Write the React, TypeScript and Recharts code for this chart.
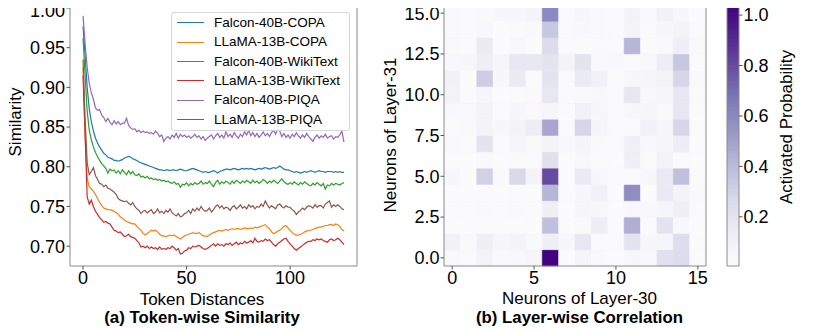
import React from "react";
import {
  LineChart,
  Line,
  XAxis,
  YAxis,
  ReferenceArea,
  ScatterChart,
  Scatter,
} from "recharts";

// ---------------- Data: (a) Token-wise similarity ----------------
const falcon40bCopa = [
  0.977, 0.94, 0.9, 0.873, 0.857, 0.845, 0.836, 0.83, 0.825, 0.821,
  0.817, 0.815, 0.812, 0.811, 0.81, 0.808, 0.808, 0.807, 0.808, 0.809,
  0.811, 0.812, 0.813, 0.812, 0.81, 0.809, 0.808, 0.806, 0.805, 0.804,
  0.803, 0.802, 0.801, 0.8, 0.799, 0.798, 0.797, 0.796, 0.796, 0.795,
  0.796, 0.796, 0.795, 0.796, 0.796, 0.795, 0.796, 0.797, 0.796, 0.795,
  0.795, 0.796, 0.797, 0.798, 0.797, 0.796, 0.795, 0.794, 0.793, 0.794,
  0.793, 0.793, 0.794, 0.795, 0.794, 0.792, 0.794, 0.795, 0.796, 0.797,
  0.797, 0.796, 0.797, 0.798, 0.797, 0.796, 0.797, 0.798, 0.797, 0.798,
  0.797, 0.798, 0.797, 0.796, 0.797, 0.798, 0.797, 0.798, 0.799, 0.798,
  0.797, 0.798, 0.799, 0.798, 0.799, 0.801, 0.799, 0.797, 0.796, 0.796,
  0.795, 0.794, 0.793, 0.794, 0.793, 0.792, 0.793, 0.794, 0.793, 0.794,
  0.795, 0.794, 0.793, 0.794, 0.795, 0.794, 0.794, 0.793, 0.794, 0.794,
  0.794, 0.793, 0.794, 0.793, 0.794, 0.793, 0.793,
];
const llama13bCopa = [
  0.925, 0.84, 0.785, 0.775, 0.772, 0.769, 0.765, 0.76, 0.755, 0.751,
  0.748, 0.747, 0.746, 0.746, 0.745, 0.744, 0.742, 0.74, 0.737, 0.735,
  0.733, 0.731, 0.73, 0.729, 0.728, 0.728, 0.725, 0.722, 0.72, 0.716,
  0.714, 0.716, 0.718, 0.72, 0.719, 0.72, 0.718, 0.715, 0.713, 0.713,
  0.712, 0.713, 0.714, 0.713, 0.714, 0.712, 0.711, 0.709, 0.711, 0.713,
  0.714, 0.715, 0.716, 0.717, 0.716, 0.716, 0.717, 0.715, 0.713, 0.713,
  0.712, 0.714, 0.716, 0.717, 0.718, 0.719, 0.72, 0.719, 0.72, 0.721,
  0.72, 0.721, 0.722, 0.721, 0.722, 0.722, 0.721, 0.722, 0.723, 0.722,
  0.722, 0.723, 0.722, 0.724, 0.723, 0.724, 0.725, 0.726, 0.727, 0.724,
  0.722, 0.718, 0.716, 0.717, 0.719, 0.72, 0.722, 0.725, 0.726, 0.723,
  0.72, 0.717, 0.715, 0.714, 0.714, 0.715, 0.716, 0.718, 0.719, 0.72,
  0.72, 0.721, 0.722, 0.723, 0.724, 0.724, 0.725, 0.726, 0.726, 0.727,
  0.727, 0.726, 0.728, 0.727, 0.725, 0.721, 0.719,
];
const falcon40bWiki = [
  0.962, 0.915, 0.87, 0.846, 0.834, 0.825, 0.818, 0.813, 0.808, 0.804,
  0.801, 0.798, 0.792, 0.797, 0.795, 0.796, 0.792, 0.795, 0.791, 0.796,
  0.793, 0.79, 0.795, 0.791, 0.794, 0.79, 0.789, 0.791, 0.787, 0.788,
  0.786, 0.788, 0.785, 0.786, 0.784, 0.785, 0.783, 0.784, 0.782, 0.783,
  0.781, 0.782, 0.78, 0.779, 0.781, 0.778, 0.779, 0.774, 0.778, 0.777,
  0.78, 0.776, 0.779, 0.777, 0.78, 0.778, 0.779, 0.782, 0.778, 0.78,
  0.779, 0.782, 0.778, 0.775, 0.78, 0.783, 0.778, 0.781, 0.779, 0.782,
  0.78, 0.778, 0.782, 0.779, 0.783, 0.781, 0.779, 0.782, 0.78, 0.783,
  0.781, 0.779, 0.783, 0.78, 0.782, 0.779, 0.781, 0.784, 0.782, 0.779,
  0.782, 0.78, 0.783, 0.781, 0.779, 0.782, 0.785, 0.781, 0.779, 0.778,
  0.78, 0.778, 0.781, 0.779, 0.777, 0.78, 0.778, 0.781, 0.779, 0.777,
  0.776, 0.779, 0.777, 0.78, 0.778, 0.776, 0.779, 0.772, 0.777, 0.776,
  0.779, 0.777, 0.779, 0.778, 0.777, 0.779, 0.78,
];
const llama13bWiki = [
  0.915, 0.84, 0.762, 0.753, 0.758, 0.75, 0.744, 0.74, 0.736, 0.733,
  0.73, 0.731, 0.729, 0.728, 0.724, 0.72, 0.719, 0.717, 0.718, 0.715,
  0.712, 0.713, 0.715, 0.712, 0.711, 0.71, 0.707, 0.704, 0.699, 0.7,
  0.698, 0.7, 0.697, 0.699, 0.697, 0.698, 0.696, 0.699, 0.696, 0.697,
  0.696, 0.698, 0.697, 0.7, 0.698, 0.695, 0.697, 0.69, 0.691, 0.694,
  0.695, 0.698, 0.697, 0.7, 0.699, 0.7, 0.701, 0.699, 0.697, 0.696,
  0.697, 0.699, 0.701, 0.703, 0.7, 0.703, 0.701, 0.702, 0.7, 0.703,
  0.702, 0.704, 0.701, 0.703, 0.705, 0.702, 0.704, 0.703, 0.706, 0.704,
  0.705, 0.707, 0.704, 0.71, 0.706, 0.705, 0.707, 0.706, 0.709, 0.707,
  0.708, 0.705, 0.702, 0.7, 0.703, 0.705, 0.707, 0.709, 0.71, 0.706,
  0.703, 0.7, 0.697, 0.695, 0.697, 0.699, 0.701, 0.703, 0.705, 0.706,
  0.706, 0.708, 0.707, 0.709, 0.708, 0.709, 0.707, 0.706, 0.705, 0.708,
  0.709, 0.707, 0.708, 0.71, 0.708, 0.705, 0.702,
];
const falcon40bPiqa = [
  0.99, 0.955, 0.925, 0.905, 0.893, 0.885, 0.874, 0.871, 0.872, 0.865,
  0.862, 0.857, 0.861, 0.856, 0.853, 0.858, 0.854, 0.857, 0.853, 0.855,
  0.855, 0.861, 0.852, 0.849, 0.847, 0.848, 0.844, 0.846, 0.843, 0.845,
  0.843, 0.844, 0.842, 0.843, 0.841, 0.845, 0.842, 0.838, 0.84, 0.832,
  0.836, 0.838, 0.835, 0.84, 0.837, 0.842, 0.836, 0.841, 0.838, 0.84,
  0.837, 0.839, 0.836, 0.838, 0.841, 0.837, 0.839, 0.835, 0.838, 0.833,
  0.836, 0.838, 0.84, 0.835, 0.839, 0.842, 0.837, 0.84, 0.836, 0.844,
  0.838, 0.841, 0.837, 0.843, 0.839, 0.836, 0.841, 0.838, 0.844, 0.84,
  0.846, 0.839, 0.843, 0.838, 0.842, 0.837, 0.84, 0.844, 0.839, 0.842,
  0.838, 0.843, 0.846, 0.841, 0.848, 0.845, 0.838, 0.842, 0.837, 0.84,
  0.836, 0.841, 0.838, 0.843, 0.839, 0.836, 0.84, 0.837, 0.842, 0.838,
  0.835, 0.832, 0.837, 0.84, 0.836, 0.839, 0.837, 0.841, 0.836, 0.838,
  0.839, 0.835, 0.838, 0.837, 0.84, 0.845, 0.831,
];
const llama13bPiqa = [
  0.935, 0.86, 0.805, 0.79, 0.794, 0.799, 0.789, 0.784, 0.779, 0.778,
  0.775, 0.777, 0.773, 0.772, 0.77, 0.768, 0.765, 0.76, 0.758, 0.757,
  0.756, 0.757, 0.754, 0.752, 0.755, 0.75, 0.747, 0.745, 0.741, 0.744,
  0.745, 0.742, 0.744, 0.746, 0.741, 0.743, 0.747, 0.742, 0.744, 0.741,
  0.745, 0.743, 0.747, 0.742, 0.74, 0.738, 0.741, 0.737, 0.738, 0.741,
  0.742, 0.745, 0.741, 0.747, 0.744, 0.748, 0.745, 0.75, 0.746, 0.744,
  0.745, 0.748, 0.743, 0.746, 0.75, 0.752, 0.748, 0.751, 0.747, 0.749,
  0.748, 0.745, 0.749, 0.751, 0.747, 0.749, 0.752, 0.748, 0.75, 0.747,
  0.752, 0.749, 0.751, 0.747, 0.75, 0.749, 0.753, 0.75, 0.757, 0.752,
  0.748, 0.751, 0.749, 0.747, 0.752, 0.753, 0.75, 0.748, 0.751, 0.749,
  0.749, 0.746, 0.744, 0.74, 0.743, 0.745, 0.748, 0.746, 0.749, 0.751,
  0.75, 0.748, 0.752, 0.749, 0.751, 0.751, 0.748, 0.753, 0.755, 0.757,
  0.749, 0.752, 0.75, 0.752, 0.75, 0.747, 0.746,
];

const seriesList = [
  { key: "falcon40bCopa", name: "Falcon-40B-COPA", color: "#1f77b4", values: falcon40bCopa },
  { key: "llama13bCopa", name: "LLaMA-13B-COPA", color: "#ff7f0e", values: llama13bCopa },
  { key: "falcon40bWiki", name: "Falcon-40B-WikiText", color: "#2ca02c", values: falcon40bWiki },
  { key: "llama13bWiki", name: "LLaMA-13B-WikiText", color: "#d62728", values: llama13bWiki },
  { key: "falcon40bPiqa", name: "Falcon-40B-PIQA", color: "#9467bd", values: falcon40bPiqa },
  { key: "llama13bPiqa", name: "LLaMA-13B-PIQA", color: "#8c564b", values: llama13bPiqa },
];

const lineXTicks = [0, 50, 100];
const lineYTicks = [0.7, 0.75, 0.8, 0.85, 0.9, 0.95, 1.0];

const lineData = falcon40bCopa.map((_, i) => {
  const row: Record<string, number> = { t: i };
  seriesList.forEach((s) => {
    row[s.key] = s.values[i];
  });
  return row;
});

// ---------------- Data: (b) Layer-wise correlation ----------------
// activation[y][x]: y = neuron of layer-31, x = neuron of layer-30
const activation = [
  [0.03, 0.02, 0.08, 0.03, 0.04, 0.06, 1.03, 0.01, 0.07, 0.03, 0.01, 0.05, 0.04, 0.22, 0.25, 0.02],
  [0.1, 0.03, 0.12, 0.06, 0.08, 0.03, 0.12, 0.05, 0.18, 0.02, 0.02, 0.2, 0.05, 0.06, 0.24, 0.02],
  [0.01, 0.01, 0.02, 0.01, 0.01, 0.01, 0.38, 0.01, 0.03, 0.14, 0.01, 0.45, 0.02, 0.2, 0.04, 0.01],
  [0.02, 0.02, 0.03, 0.02, 0.03, 0.02, 0.12, 0.01, 0.06, 0.05, 0.01, 0.04, 0.04, 0.06, 0.12, 0.02],
  [0.01, 0.01, 0.02, 0.01, 0.02, 0.01, 0.42, 0.01, 0.05, 0.1, 0.01, 0.58, 0.01, 0.16, 0.08, 0.03],
  [0.05, 0.01, 0.3, 0.03, 0.27, 0.08, 0.8, 0.01, 0.16, 0.05, 0.01, 0.02, 0.05, 0.16, 0.38, 0.02],
  [0.01, 0.01, 0.03, 0.01, 0.02, 0.02, 0.22, 0.01, 0.04, 0.02, 0.01, 0.12, 0.02, 0.08, 0.02, 0.01],
  [0.03, 0.02, 0.2, 0.01, 0.06, 0.03, 0.08, 0.04, 0.07, 0.03, 0.02, 0.12, 0.04, 0.05, 0.14, 0.01],
  [0.02, 0.03, 0.08, 0.05, 0.08, 0.14, 0.48, 0.02, 0.28, 0.07, 0.02, 0.02, 0.1, 0.06, 0.28, 0.02],
  [0.04, 0.03, 0.08, 0.02, 0.05, 0.03, 0.06, 0.02, 0.1, 0.05, 0.02, 0.05, 0.06, 0.03, 0.18, 0.02],
  [0.09, 0.02, 0.06, 0.01, 0.02, 0.03, 0.18, 0.02, 0.03, 0.04, 0.02, 0.18, 0.04, 0.05, 0.18, 0.02],
  [0.1, 0.01, 0.32, 0.05, 0.15, 0.02, 0.2, 0.02, 0.15, 0.1, 0.02, 0.05, 0.06, 0.08, 0.28, 0.03],
  [0.04, 0.05, 0.13, 0.06, 0.17, 0.17, 0.2, 0.08, 0.2, 0.03, 0.04, 0.02, 0.04, 0.14, 0.35, 0.02],
  [0.03, 0.02, 0.15, 0.01, 0.04, 0.01, 0.25, 0.02, 0.02, 0.02, 0.02, 0.42, 0.02, 0.03, 0.12, 0.03],
  [0.03, 0.02, 0.04, 0.01, 0.02, 0.03, 0.35, 0.02, 0.04, 0.03, 0.02, 0.08, 0.02, 0.05, 0.08, 0.02],
  [0.03, 0.02, 0.03, 0.05, 0.05, 0.08, 0.6, 0.02, 0.05, 0.03, 0.02, 0.09, 0.03, 0.1, 0.05, 0.01],
];
const heatXTicks = [0, 5, 10, 15];
const heatYTicks = [0, 2.5, 5, 7.5, 10, 12.5, 15];
const colorbarTicks = [0.2, 0.4, 0.6, 0.8, 1.0];
const colorMin = 0.005;
const colorMax = 1.04;

const cells = activation.flatMap((row, y) => row.map((v, x) => ({ x, y, v })));

// matplotlib "Purples"
const purples = [
  [252, 251, 253],
  [239, 237, 245],
  [218, 218, 235],
  [188, 189, 220],
  [158, 154, 200],
  [128, 125, 186],
  [106, 81, 163],
  [84, 39, 143],
  [63, 0, 125],
];
function purpleColor(v: number) {
  let t = (v - colorMin) / (colorMax - colorMin);
  t = Math.max(0, Math.min(1, t));
  const pos = t * (purples.length - 1);
  const i = Math.min(purples.length - 2, Math.floor(pos));
  const f = pos - i;
  const a = purples[i];
  const b = purples[i + 1];
  const c = a.map((av, k) => Math.round(av + (b[k] - av) * f));
  return `rgb(${c[0]},${c[1]},${c[2]})`;
}

const STEPS = 100;
const stepSize = (colorMax - colorMin) / STEPS;
const colorbarStrips = Array.from({ length: STEPS }, (_, i) => {
  const lo = colorMin + stepSize * i;
  const hi = Math.min(colorMax, lo + stepSize * 2);
  return { lo, hi, color: purpleColor(lo + stepSize / 2) };
});

const FONT = '"Liberation Sans", Arial, Helvetica, sans-serif';
const FRAME = "#8a8a8a";
const TICK_COLOR = "#555";
const tickStyle = { fontSize: 18, fill: "#000", fontFamily: FONT };

const textBase: React.CSSProperties = {
  position: "absolute",
  whiteSpace: "nowrap",
  lineHeight: 1,
  color: "#000",
  fontFamily: FONT,
};

function Caption({ x, y, text, size = 17, bold = false, rotate = false }: any) {
  return (
    <div
      style={{
        ...textBase,
        left: x,
        top: y,
        fontSize: size,
        fontWeight: bold ? "bold" : "normal",
        transform: `translate(-50%, -50%)${rotate ? " rotate(-90deg)" : ""}`,
      }}
    >
      {text}
    </div>
  );
}

export default function App() {
  return (
    <div
      style={{
        position: "relative",
        width: 814,
        height: 330,
        margin: "-8px 0 0 -8px",
        background: "#fff",
        fontFamily: FONT,
        overflow: "hidden",
      }}
    >
      {/* (a) Token-wise similarity */}
      <div style={{ position: "absolute", left: 0, top: 0 }}>
        <LineChart
          width={380}
          height={330}
          data={lineData}
          margin={{ top: 4, right: 23, bottom: 0, left: 0 }}
        >
          <XAxis
            dataKey="t"
            type="number"
            domain={[-6.3, 132.3]}
            ticks={lineXTicks}
            allowDataOverflow
            height={64}
            tickSize={3.5}
            tickMargin={2}
            axisLine={false}
            tickLine={{ stroke: TICK_COLOR }}
            tick={tickStyle}
          />
          <YAxis
            type="number"
            domain={[0.675, 1.005]}
            ticks={lineYTicks}
            allowDataOverflow
            width={70}
            tickSize={3.5}
            tickMargin={1.5}
            axisLine={false}
            tickLine={{ stroke: TICK_COLOR }}
            tick={tickStyle}
            tickFormatter={(v: number) => v.toFixed(2)}
          />
          {seriesList.map((s) => (
            <Line
              key={s.key}
              dataKey={s.key}
              name={s.name}
              stroke={s.color}
              strokeWidth={1.2}
              dot={false}
              activeDot={false}
              type="linear"
              isAnimationActive={false}
            />
          ))}
          <ReferenceArea
            x1={-6.3}
            x2={132.3}
            y1={0.675}
            y2={1.005}
            fill="none"
            fillOpacity={0}
            stroke={FRAME}
            strokeWidth={1}
            ifOverflow="visible"
          />
        </LineChart>
      </div>

      {/* Legend */}
      <div
        style={{
          position: "absolute",
          left: 171,
          top: 12,
          width: 179,
          height: 119,
          boxSizing: "border-box",
          border: "1px solid #d6d6d6",
          borderRadius: 3,
          background: "rgba(255,255,255,0.85)",
        }}
      >
        {seriesList.map((s, i) => (
          <div
            key={s.key}
            style={{
              position: "absolute",
              left: 0,
              top: 10.3 + i * 19.35 - 9,
              height: 18,
              width: 179,
            }}
          >
            <div
              style={{
                position: "absolute",
                left: 5,
                top: 8,
                width: 27,
                height: 0,
                borderTop: `1.8px solid ${s.color}`,
              }}
            />
            <div
              style={{
                ...textBase,
                left: 42,
                top: 1.5,
                fontSize: 13.5,
              }}
            >
              {s.name}
            </div>
          </div>
        ))}
      </div>

      <Caption x={15} y={122} text="Similarity" rotate />
      <Caption x={202} y={299} text="Token Distances" />
      <Caption x={202} y={317.5} text="(a) Token-wise Similarity" bold size={16.8} />

      {/* (b) Layer-wise correlation heatmap */}
      <div style={{ position: "absolute", left: 380, top: 0 }}>
        <ScatterChart
          width={340}
          height={330}
          margin={{ top: 5, right: 14, bottom: 0, left: 0 }}
        >
          <XAxis
            dataKey="x"
            type="number"
            domain={[-0.5, 15.5]}
            ticks={heatXTicks}
            allowDataOverflow
            height={64}
            tickSize={3.5}
            tickMargin={2}
            axisLine={false}
            tickLine={{ stroke: TICK_COLOR }}
            tick={tickStyle}
          />
          <YAxis
            dataKey="y"
            type="number"
            domain={[-0.5, 15.5]}
            ticks={heatYTicks}
            allowDataOverflow
            width={64}
            tickSize={3.5}
            tickMargin={1}
            axisLine={false}
            tickLine={{ stroke: TICK_COLOR }}
            tick={tickStyle}
            tickFormatter={(v: number) => v.toFixed(1)}
          />
          {cells.map((c) => (
            <ReferenceArea
              key={`c-${c.x}-${c.y}`}
              x1={c.x - 0.5}
              x2={c.x + 0.5}
              y1={c.y - 0.5}
              y2={c.y + 0.5}
              fill={purpleColor(c.v)}
              fillOpacity={1}
              stroke={purpleColor(c.v)}
              strokeWidth={0.5}
              ifOverflow="visible"
            />
          ))}
          <ReferenceArea
            x1={-0.5}
            x2={15.5}
            y1={-0.5}
            y2={15.5}
            fill="none"
            fillOpacity={0}
            stroke={FRAME}
            strokeWidth={1}
            ifOverflow="visible"
          />
          <Scatter
            data={cells}
            fill="none"
            shape={() => <g />}
            isAnimationActive={false}
          />
        </ScatterChart>
      </div>

      <Caption x={390} y={135} text="Neurons of Layer-31" rotate />
      <Caption x={579.5} y={298} text="Neurons of Layer-30" />
      <Caption x={579.5} y={317.5} text="(b) Layer-wise Correlation" bold size={16.8} />

      {/* Colorbar */}
      <div style={{ position: "absolute", left: 720, top: 0 }}>
        <ScatterChart
          width={94}
          height={330}
          margin={{ top: 5, right: 0, bottom: 64, left: 7 }}
        >
          <XAxis dataKey="x" type="number" domain={[0, 1]} hide />
          <YAxis
            dataKey="y"
            type="number"
            orientation="right"
            domain={[colorMin, colorMax]}
            ticks={colorbarTicks}
            allowDataOverflow
            width={75}
            tickSize={3.5}
            tickMargin={1}
            axisLine={false}
            tickLine={{ stroke: TICK_COLOR }}
            tick={tickStyle}
            tickFormatter={(v: number) => v.toFixed(1)}
          />
          {colorbarStrips.map((s, i) => (
            <ReferenceArea
              key={`s-${i}`}
              x1={0}
              x2={1}
              y1={s.lo}
              y2={s.hi}
              fill={s.color}
              fillOpacity={1}
              stroke="none"
              ifOverflow="visible"
            />
          ))}
          <ReferenceArea
            x1={0}
            x2={1}
            y1={colorMin}
            y2={colorMax}
            fill="none"
            fillOpacity={0}
            stroke={FRAME}
            strokeWidth={1}
            ifOverflow="visible"
          />
          <Scatter
            data={[{ x: 0.5, y: 0.5 }]}
            fill="none"
            shape={() => <g />}
            isAnimationActive={false}
          />
        </ScatterChart>
      </div>

      <Caption x={786} y={127} text="Activated Probability" rotate />
    </div>
  );
}
